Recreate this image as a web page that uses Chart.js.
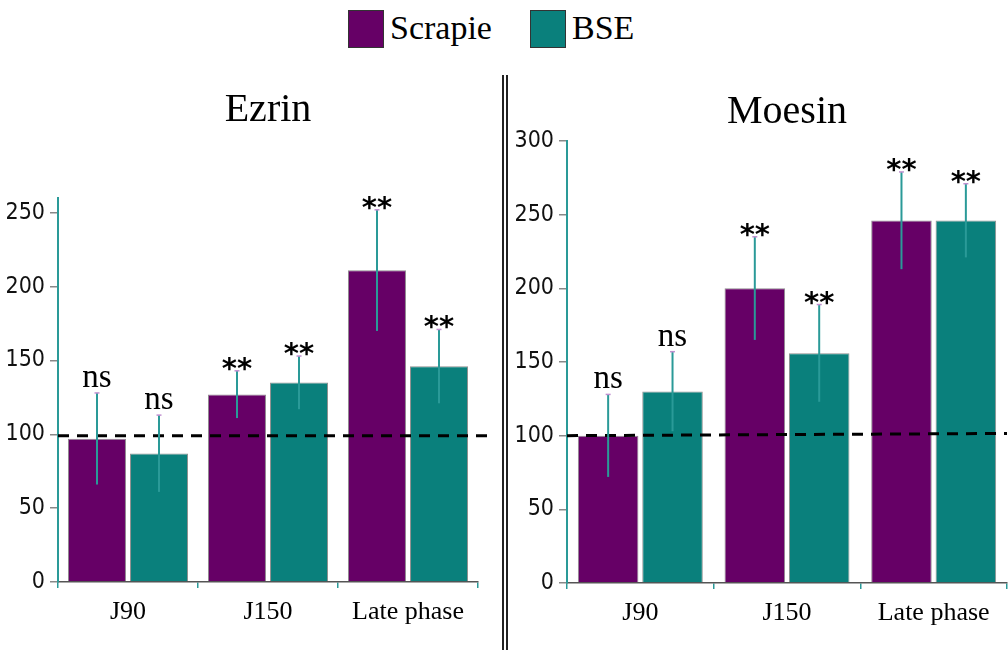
<!DOCTYPE html>
<html>
<head>
<meta charset="utf-8">
<script src="https://cdn.jsdelivr.net/npm/chart.js@4.4.1/dist/chart.umd.min.js"></script>
<style>
  body { margin: 0; background: #fff; width: 1008px; height: 650px; position: relative; overflow: hidden; }
  canvas { position: absolute; top: 0; }
  #legend { position: absolute; top: 0; left: 0; width: 1008px; height: 60px; font-family: "Liberation Serif", "Times New Roman", serif; font-size: 34px; color: #000; }
  .box { position: absolute; top: 10px; width: 34px; height: 36px; border: 1.5px solid #333; }
  .lab { position: absolute; top: 8px; line-height: 40px; }
  .sep { position: absolute; top: 75px; width: 1.5px; height: 575px; background: #222; }
</style>
</head>
<body>
<div id="legend">
  <div class="box" style="left:348px;background:#660066"></div><div class="lab" style="left:390px">Scrapie</div>
  <div class="box" style="left:530px;background:#0a807c"></div><div class="lab" style="left:572px">BSE</div>
</div>
<div class="sep" style="left:502px"></div>
<div class="sep" style="left:506px"></div>
<canvas id="ezrin" width="500" height="650" style="left:0"></canvas>
<canvas id="moesin" width="500" height="650" style="left:508px"></canvas>
<script>
var categories = ['J90', 'J150', 'Late phase'];

var ezrinScrapie = [97, 127, 211];
var ezrinScrapieErr = [31, 16, 41];
var ezrinScrapieSig = ['ns', '**', '**'];
var ezrinBSE = [87, 135, 146];
var ezrinBSEErr = [26, 18, 25];
var ezrinBSESig = ['ns', '**', '**'];
var ezrinTicks = [0, 50, 100, 150, 200, 250];
var ezrinRef = [99, 99];

var moesinScrapie = [100, 200, 246];
var moesinScrapieErr = [28, 35, 33];
var moesinScrapieSig = ['ns', '**', '**'];
var moesinBSE = [130, 156, 246];
var moesinBSEErr = [27, 33, 25];
var moesinBSESig = ['ns', '**', '**'];
var moesinTicks = [0, 50, 100, 150, 200, 250, 300];
var moesinRef = [100, 101.5];

var purple = '#660066';
var teal = '#0a807c';
var serif = '"Liberation Serif", "Times New Roman", serif';
var narrow = '"Liberation Sans Narrow", "DejaVu Sans Condensed", sans-serif';

// error bars, significance marks and the dashed 100% line
var extras = {
  id: 'extras',
  afterDatasetsDraw: function(chart, args, opts) {
    var ctx = chart.ctx, y = chart.scales.y, a = chart.chartArea;
    ctx.save();
    ctx.setLineDash([11, 8]);
    ctx.lineWidth = 3;
    ctx.strokeStyle = '#000';
    ctx.beginPath();
    ctx.moveTo(a.left, y.getPixelForValue(opts.ref[0]));
    ctx.lineTo(a.right + opts.overhang, y.getPixelForValue(opts.ref[1]));
    ctx.stroke();
    ctx.restore();

    chart.data.datasets.forEach(function(ds, i) {
      var meta = chart.getDatasetMeta(i);
      meta.data.forEach(function(bar, j) {
        var v = ds.data[j], e = ds.errors[j];
        var top = y.getPixelForValue(v + e), bot = y.getPixelForValue(v - e);
        ctx.save();
        ctx.strokeStyle = '#2a9a98';
        ctx.lineWidth = 2;
        ctx.beginPath();
        ctx.moveTo(bar.x, bot);
        ctx.lineTo(bar.x, top);
        ctx.stroke();
        ctx.strokeStyle = '#c090d0';
        ctx.lineWidth = 1.5;
        ctx.beginPath();
        ctx.moveTo(bar.x - 2.5, top);
        ctx.lineTo(bar.x + 2.5, top);
        ctx.stroke();
        ctx.fillStyle = '#000';
        ctx.textAlign = 'center';
        ctx.textBaseline = 'alphabetic';
        var s = ds.sig[j];
        if (s == 'ns') {
          ctx.font = '33px ' + serif;
          ctx.fillText(s, bar.x, top - 6);
        } else {
          ctx.font = 'bold 29px "DejaVu Sans", sans-serif';
          ctx.fillText(s, bar.x, top + 7);
        }
        ctx.restore();
      });
    });
  }
};

function makeChart(id, title, scrapie, scrapieErr, scrapieSig, bse, bseErr, bseSig, ticks, ref, o) {
  return new Chart(document.getElementById(id), {
    type: 'bar',
    data: {
      labels: categories,
      datasets: [{
        label: 'Scrapie',
        data: scrapie,
        errors: scrapieErr,
        sig: scrapieSig,
        backgroundColor: purple,
        borderColor: 'rgba(70,60,70,0.6)',
        borderWidth: 1,
        categoryPercentage: o.cp,
        barPercentage: o.bp
      }, {
        label: 'BSE',
        data: bse,
        errors: bseErr,
        sig: bseSig,
        backgroundColor: teal,
        borderColor: 'rgba(70,70,70,0.6)',
        borderWidth: 1,
        categoryPercentage: o.cp,
        barPercentage: o.bp
      }]
    },
    options: {
      responsive: false,
      animation: false,
      layout: { padding: { left: 0, right: o.padRight, top: o.padTop, bottom: 0 } },
      plugins: {
        legend: { display: false },
        tooltip: { enabled: false },
        title: {
          display: true,
          text: title,
          fullSize: false,
          color: '#000',
          font: { family: serif, size: 40, weight: 'normal', lineHeight: 1.2 },
          padding: { top: 0, bottom: o.titleGap }
        },
        extras: { ref: ref, overhang: o.overhang }
      },
      scales: {
        x: {
          grid: { display: true, drawOnChartArea: false, tickLength: 6, color: '#2a9a98', lineWidth: 1.5 },
          border: { display: true, color: '#555', width: 1.5 },
          ticks: { color: '#000', padding: 9, font: { family: serif, size: 26 } },
          afterFit: function(s) { s.height = 650 - o.bottom; }
        },
        y: {
          min: 0,
          max: o.max,
          ticks: { stepSize: 50, color: '#111', padding: 5, font: { family: narrow, size: 23 } },
          afterBuildTicks: function(s) { s.ticks = ticks.map(function(t) { return { value: t }; }); },
          grid: { display: true, drawOnChartArea: false, tickLength: 8, color: '#888', lineWidth: 1.5 },
          border: { display: true, color: '#2a9a98', width: 2 },
          afterFit: function(s) { s.width = o.left; }
        }
      }
    },
    plugins: [extras]
  });
}

makeChart('ezrin', 'Ezrin', ezrinScrapie, ezrinScrapieErr, ezrinScrapieSig, ezrinBSE, ezrinBSEErr, ezrinBSESig, ezrinTicks, ezrinRef,
  { cp: 0.886, bp: 0.935, max: 260, left: 58, padRight: 22, padTop: 86, titleGap: 64, bottom: 582, overhang: 12 });
makeChart('moesin', 'Moesin', moesinScrapie, moesinScrapieErr, moesinScrapieSig, moesinBSE, moesinBSEErr, moesinBSESig, moesinTicks, moesinRef,
  { cp: 0.878, bp: 0.94, max: 300, left: 59, padRight: 1, padTop: 88, titleGap: 5, bottom: 583, overhang: 0 });
</script>
</body>
</html>
